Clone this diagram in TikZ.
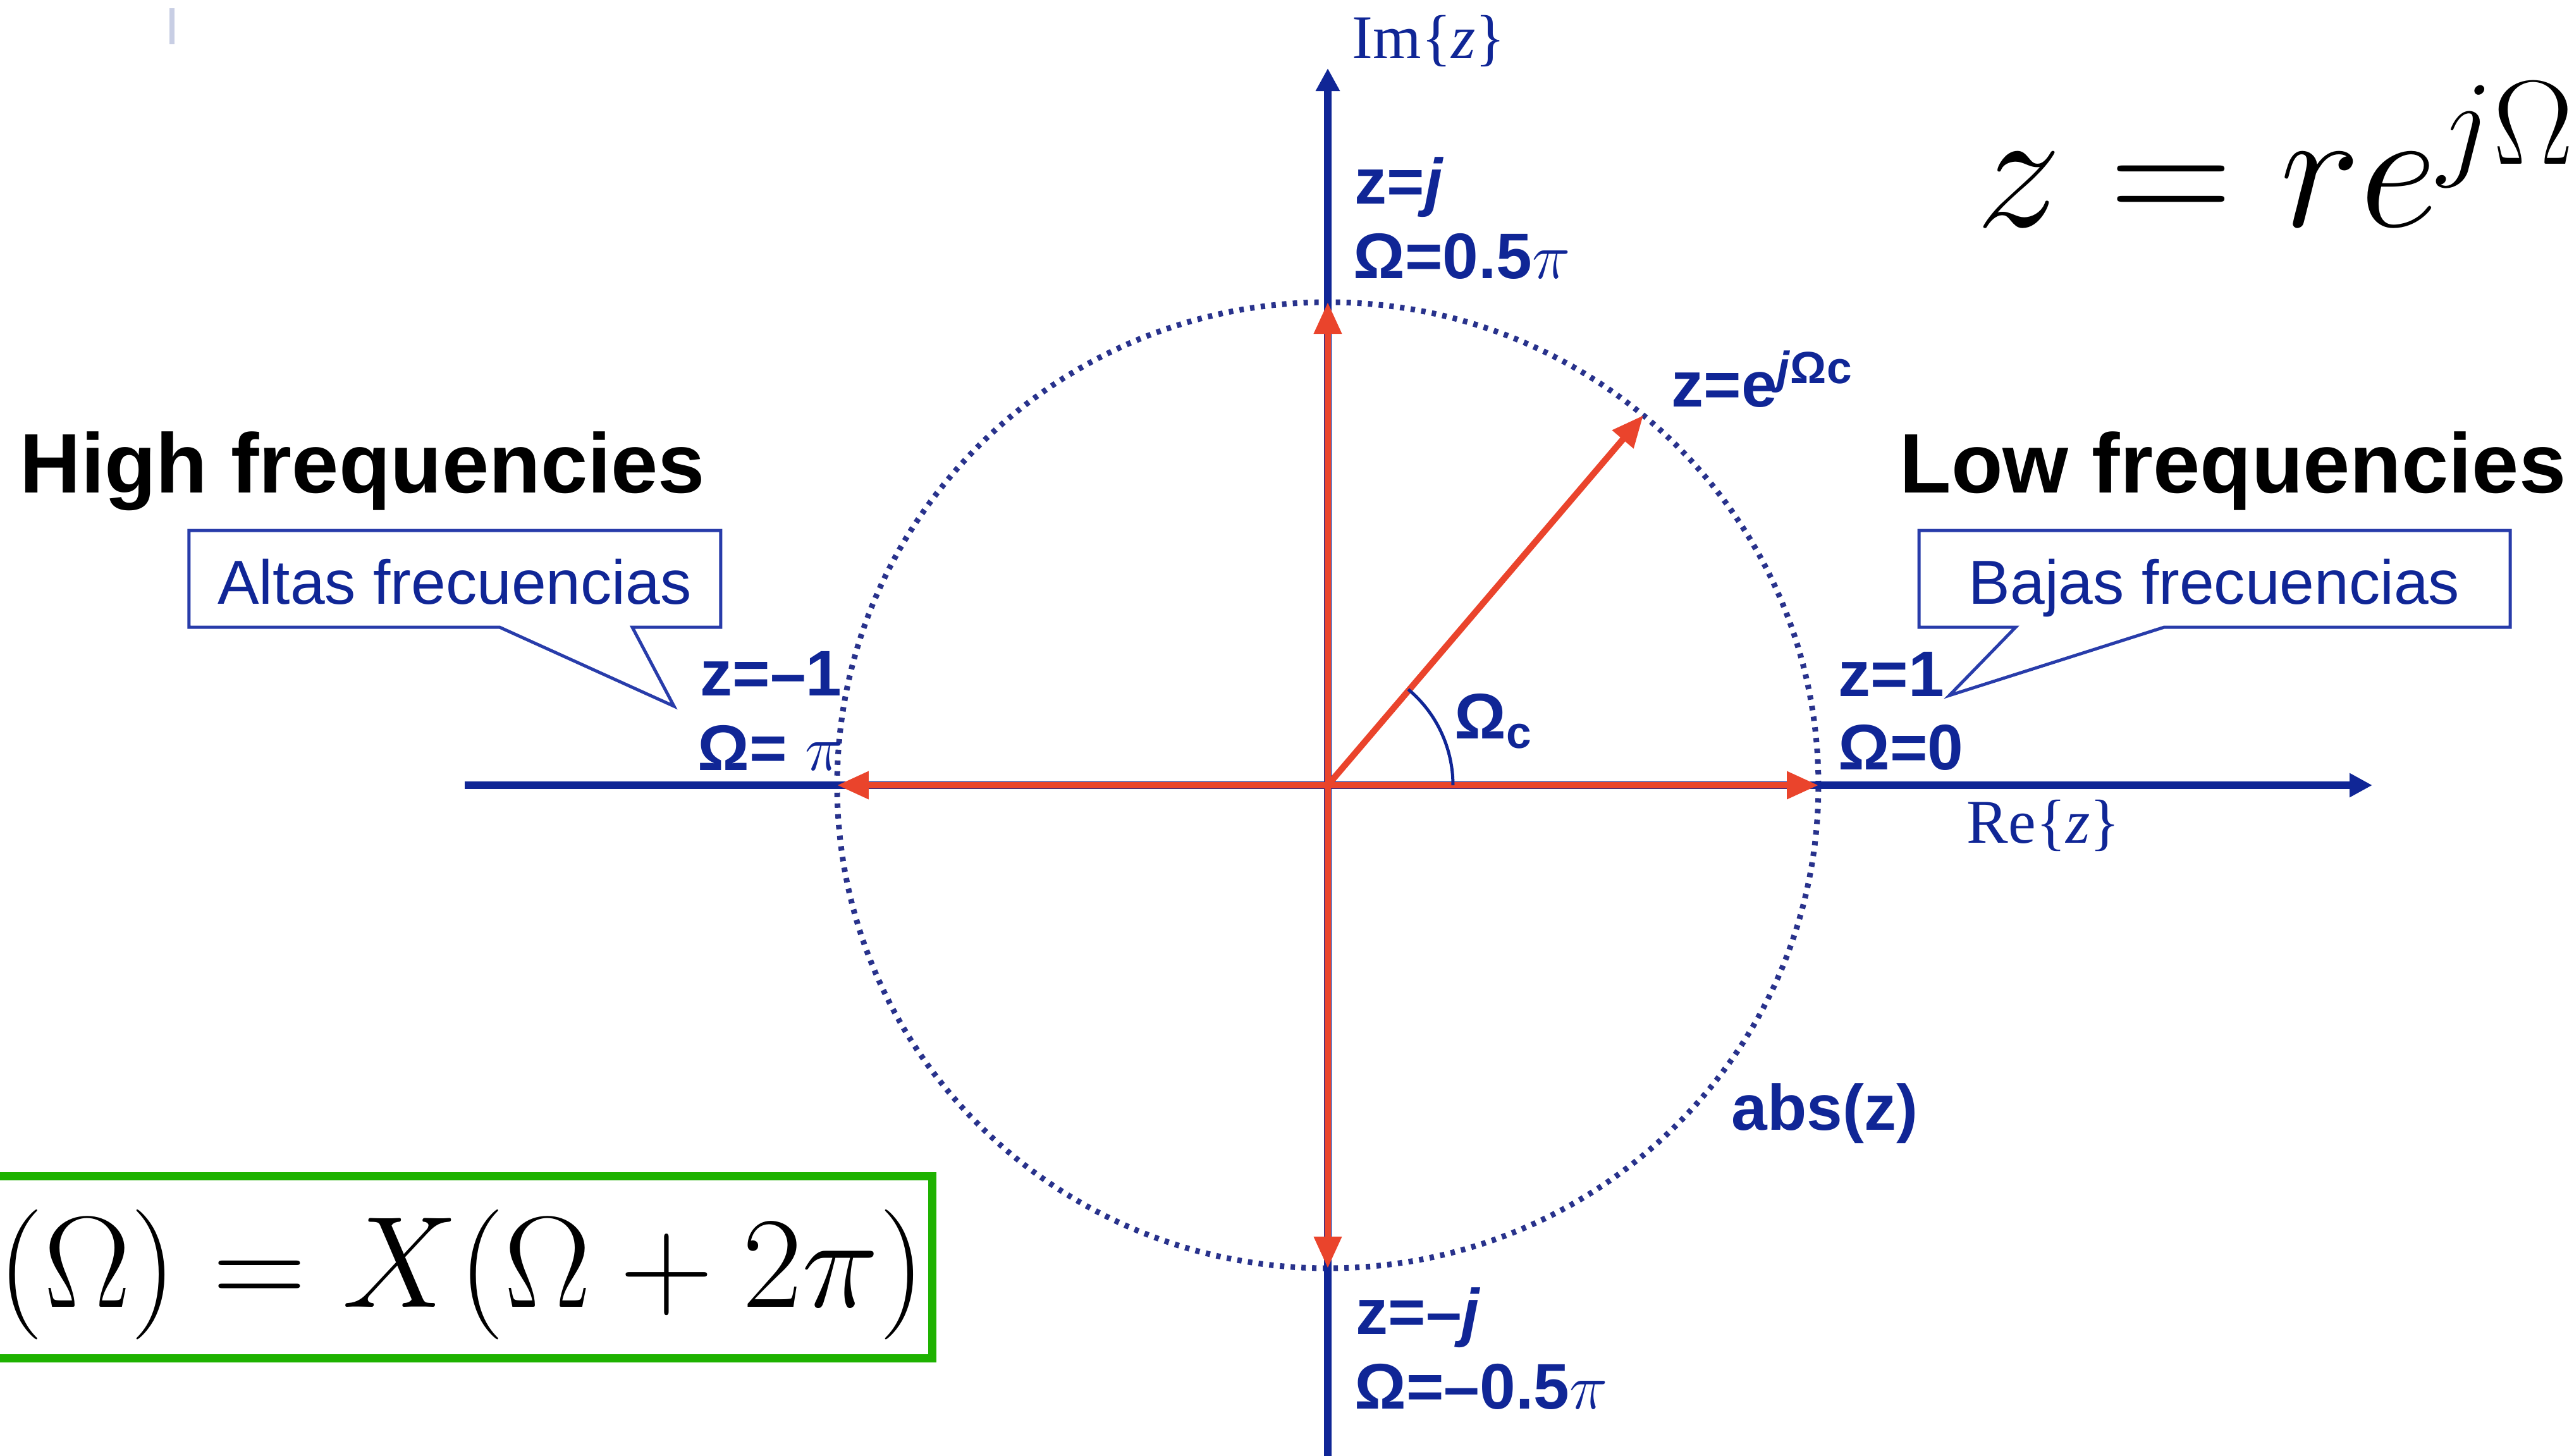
\RequirePackage{fix-cm}
\documentclass[tikz,border=0pt]{standalone}
\usepackage{fontspec}
\setmainfont{Liberation Sans}
\newfontfamily\axisfont{Liberation Serif}
\usetikzlibrary{arrows.meta,calc}
\definecolor{axisblue}{RGB}{16,38,150}
\definecolor{vecred}{RGB}{234,68,44}
\definecolor{dotblue}{RGB}{40,50,140}
\definecolor{calloutblue}{RGB}{40,60,170}
\definecolor{boxgreen}{RGB}{30,178,0}
\definecolor{marklight}{RGB}{200,206,228}

\begin{document}
\begin{tikzpicture}[
    axisline/.style={draw=axisblue, line width=0.12cm, -{Triangle[length=0.36cm,width=0.36cm]}},
    vecarrow/.style={draw=vecred, line width=0.1cm, -{Triangle[length=0.5cm,width=0.42cm]}},
    unitcircle/.style={draw=dotblue, line width=0.09cm, dash pattern=on 0.07cm off 0.10cm},
    lbl/.style={font=\fontsize{29}{34}\selectfont\bfseries, text=axisblue, inner sep=0pt, anchor=base west},
    axlbl/.style={font=\axisfont\fontsize{28}{33}\selectfont, text=axisblue, inner sep=0pt, anchor=base west},
    heading/.style={font=\fontsize{38}{46}\selectfont\bfseries, inner sep=0pt, anchor=base west},
    callout/.style={draw=calloutblue, line width=0.05cm, fill=white},
    note/.style={font=\fontsize{28}{33}\selectfont, text=axisblue, inner sep=0pt, anchor=base}
]
\useasboundingbox (-21,-10.60) rectangle (19.71,12.42);
\clip (-21,-10.60) rectangle (19.71,12.42);

% Points of the z-plane
\coordinate (O) at (0,0);
\coordinate (imtop) at (0,11.34);
\coordinate (imbot) at (0,-10.7);
\coordinate (releft) at (-13.65,0);
\coordinate (reright) at (16.52,0);
\coordinate (zone) at (7.76,0);
\coordinate (zmone) at (-7.76,0);
\coordinate (zj) at (0,7.64);
\coordinate (zmj) at (0,-7.64);
\coordinate (zc) at (4.99,5.85);

% Unit circle and axes
\draw[unitcircle] (O) ellipse [x radius=7.76, y radius=7.64];
\draw[axisline] (imbot) -- (imtop);
\draw[axisline] (releft) -- (reright);

% Red vectors
\draw[vecarrow] (O) -- (zone);
\draw[vecarrow] (O) -- (zmone);
\draw[vecarrow] (O) -- (zj);
\draw[vecarrow] (O) -- (zmj);
\draw[vecarrow] (O) -- (zc);
\draw[draw=axisblue, line width=0.05cm] (1.98,0) arc[start angle=0, end angle=50, radius=1.98];

% Axis labels
\node[axlbl] (imlbl) at (0.38,11.50) {Im\{\textit{z}\}};
\node[axlbl] (relbl) at (10.10,-0.91) {Re\{\textit{z}\}};

% Point labels
\node[lbl] (zjlbl) at (0.42,9.20) {z=\textit{j}};
\node[lbl] (omjlbl) at (0.40,8.02) {Ω=0.5$\pi$};
\node[lbl] (zclbl) at (5.43,5.99) {z=e\textsuperscript{\textit{j}Ωc}};
\node[lbl] (zmonelbl) at (-9.93,1.42) {z=–1};
\node[lbl] (ompilbl) at (-9.97,0.24) {Ω= $\pi$};
\node[lbl] (zonelbl) at (8.07,1.41) {z=1};
\node[lbl] (omzlbl) at (8.07,0.25) {Ω=0};
\node[lbl] (omclbl) at (2.00,0.74) {Ω\textsubscript{c}};
\node[lbl] (abslbl) at (6.38,-5.45) {abs(z)};
\node[lbl] (zmjlbl) at (0.44,-8.68) {z=–\textit{j}};
\node[lbl] (ommjlbl) at (0.42,-9.86) {Ω=–0.5$\pi$};

% Headings
\node[heading] (high) at (-20.69,4.63) {High frequencies};
\node[heading] (low) at (9.04,4.63) {Low frequencies};

% Callouts
\coordinate (hightip) at (-10.34,1.25);
\coordinate (lowtip) at (9.83,1.42);
\draw[callout] (-18.01,4.03) -- (-9.60,4.03) -- (-9.60,2.50) -- (-11.00,2.50)
    -- (hightip) -- (-13.10,2.50) -- (-18.01,2.50) -- cycle;
\node[note] (altas) at (-13.81,2.87) {Altas frecuencias};
\draw[callout] (9.35,4.03) -- (18.70,4.03) -- (18.70,2.50) -- (13.23,2.50)
    -- (lowtip) -- (10.88,2.50) -- (9.35,2.50) -- cycle;
\node[note] (bajas) at (14.02,2.87) {Bajas frecuencias};

% Formulas
\node[inner sep=0pt, anchor=base west, font=\fontsize{77}{90}\selectfont] (zpolar) at (10.25,8.84) {$z = re^{j\Omega}$};
\draw[draw=boxgreen, line width=0.13cm] (-21.3,-6.18) rectangle (-6.25,-9.06);
\node[inner sep=0pt, anchor=base east, font=\fontsize{58.5}{70}\selectfont] (period) at (-6.36,-8.25) {$(\Omega) = X(\Omega + 2\pi)$};

% small mark
\draw[draw=marklight, line width=0.08cm] (-18.28,12.29) -- (-18.28,11.72);
\end{tikzpicture}
\end{document}
